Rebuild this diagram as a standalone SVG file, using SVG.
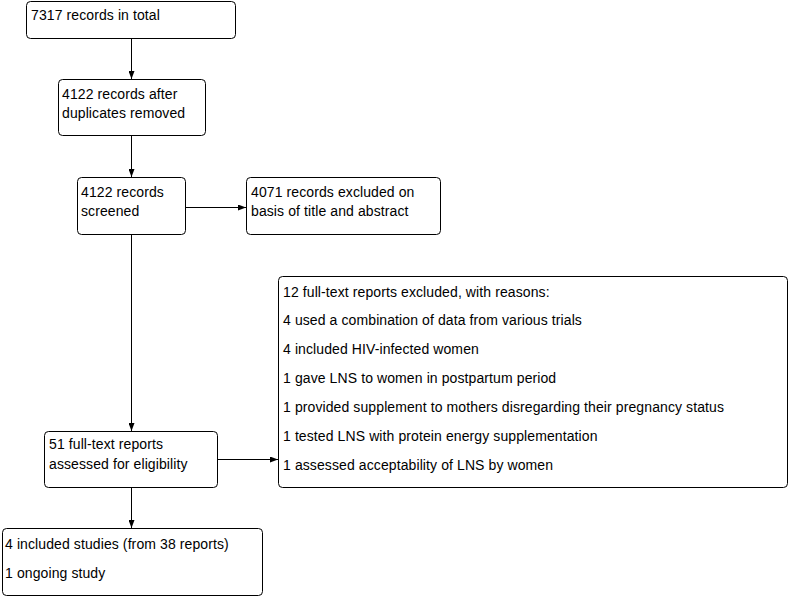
<svg xmlns="http://www.w3.org/2000/svg" width="789" height="596" viewBox="0 0 789 596">
<style>
.box{fill:#fff;stroke:#000;stroke-width:1}
text{font-family:"Liberation Sans",Arial,sans-serif;font-size:14px;letter-spacing:0.1px;fill:#000}
.c{stroke:#000;stroke-width:1;fill:none;marker-end:url(#ah)}
</style>
<defs>
<marker id="ah" markerWidth="8" markerHeight="6" refX="8" refY="3" orient="auto" markerUnits="userSpaceOnUse">
<path d="M0,0 L8,3 L0,6 Z" fill="#000"/>
</marker>
</defs>
<rect width="789" height="596" fill="#fff"/>
<g id="connectors">
<line class="c" x1="131.5" y1="38" x2="131.5" y2="79"/>
<line class="c" x1="131.5" y1="135" x2="131.5" y2="177"/>
<line class="c" x1="185" y1="207.5" x2="246" y2="207.5"/>
<line class="c" x1="131.5" y1="234" x2="131.5" y2="431"/>
<line class="c" x1="217" y1="459.5" x2="278" y2="459.5"/>
<line class="c" x1="131.5" y1="487" x2="131.5" y2="528"/>
</g>
<g id="n1"><rect class="box" x="26.5" y="1.5" width="209" height="37" rx="4"/><text x="31" y="20">7317 records in total</text></g>
<g id="n2"><rect class="box" x="58.5" y="79.5" width="147" height="56" rx="4"/><text x="62" y="99">4122 records after</text><text x="62" y="118">duplicates removed</text></g>
<g id="n3"><rect class="box" x="77.5" y="177.5" width="108" height="57" rx="4"/><text x="81" y="197">4122 records</text><text x="81" y="216">screened</text></g>
<g id="n4"><rect class="box" x="246.5" y="177.5" width="194" height="57" rx="4"/><text x="251" y="197">4071 records excluded on</text><text x="251" y="216">basis of title and abstract</text></g>
<g id="n5"><rect class="box" x="278.5" y="276.5" width="509" height="211" rx="4"/>
<text x="283" y="297">12 full-text reports excluded, with reasons:</text>
<text x="283" y="325">4 used a combination of data from various trials</text>
<text x="283" y="354">4 included HIV-infected women</text>
<text x="283" y="383">1 gave LNS to women in postpartum period</text>
<text x="283" y="412">1 provided supplement to mothers disregarding their pregnancy status</text>
<text x="283" y="441">1 tested LNS with protein energy supplementation</text>
<text x="283" y="470">1 assessed acceptability of LNS by women</text>
</g>
<g id="n6"><rect class="box" x="44.5" y="431.5" width="173" height="56" rx="4"/><text x="49" y="449">51 full-text reports</text><text x="49" y="469">assessed for eligibility</text></g>
<g id="n7"><rect class="box" x="2.5" y="528.5" width="260" height="67" rx="4"/><text x="5" y="549">4 included studies (from 38 reports)</text><text x="5" y="578">1 ongoing study</text></g>
</svg>
